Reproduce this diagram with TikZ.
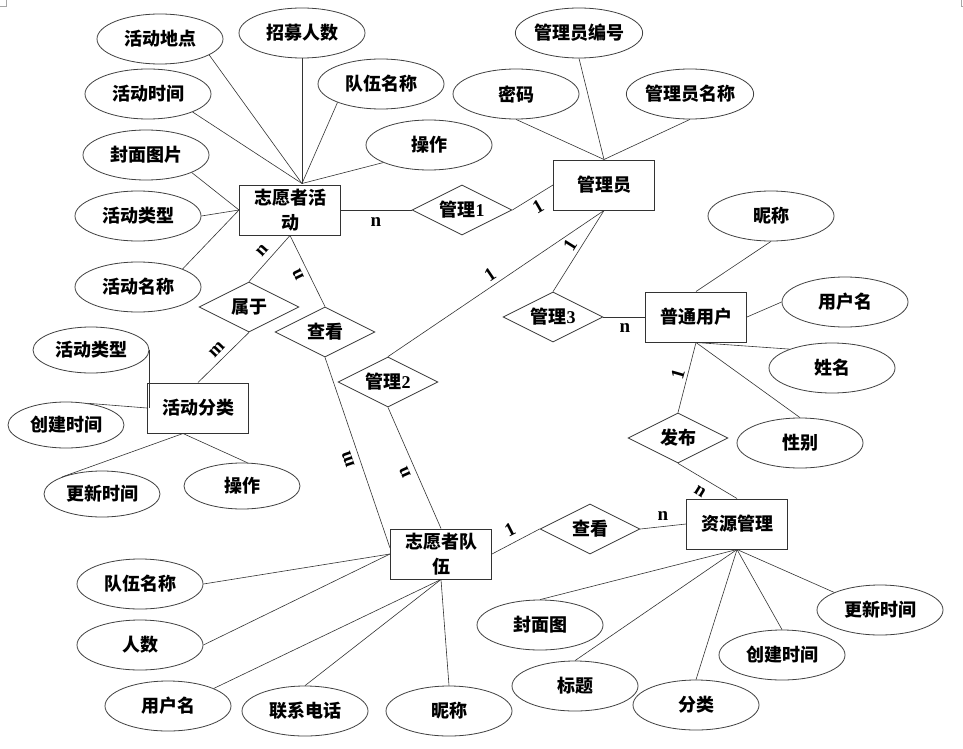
\documentclass[tikz,border=0pt]{standalone}
\usepackage{fontspec}
\setmainfont{Liberation Serif}
\newfontfamily\cjk{Noto Sans CJK SC}
\newfontfamily\numfont{Liberation Serif Bold}
\usetikzlibrary{shapes.geometric,calc}
\begin{document}
\begin{tikzpicture}[x=1pt,y=-1pt,
  cjkfont/.style={font=\cjk\fontsize{18}{25}\selectfont\bfseries},
  attr/.style={draw=black!75, line width=0.8pt, ellipse, minimum width=126pt, minimum height=50pt, inner sep=0pt, cjkfont},
  sattr/.style={attr, minimum width=116pt, minimum height=46pt},
  ent/.style={draw=black!80, line width=1pt, rectangle, minimum width=101pt, minimum height=50pt, inner sep=0pt, align=center, cjkfont},
  rel/.style={draw=black!80, line width=0.8pt, diamond, aspect=2, minimum width=100pt, minimum height=50pt, inner sep=0pt, cjkfont},
  conn/.style={draw=black!80, line width=0.6pt},
  card/.style={font=\numfont\fontsize{19}{19}\selectfont, inner sep=0pt}
]
\useasboundingbox (0,0) rectangle (963,749);
\fill[white] (0,0) rectangle (963,749);
\draw[black!35, line width=0.5pt] (6,0) -- (6,6) -- (0,6);
\draw[black!35, line width=0.5pt] (961,0) -- (961,6) -- (963,6);

% entities
\node[ent] (e1) at (290,210) {志愿者活\\动};
\node[ent] (e2) at (198,408) {活动分类};
\node[ent] (e3) at (441,554) {志愿者队\\伍};
\node[ent] (e4) at (604,185) {管理员};
\node[ent] (e5) at (696,317) {普通用户};
\node[ent] (e6) at (737,524) {资源管理};

% relationships
\node[rel] (r1) at (462,210) {管理{\numfont 1}};
\node[rel] (rsy) at (249,307) {属于};
\node[rel] (rck) at (325,332) {查看};
\node[rel] (r2) at (388,382) {管理{\numfont 2}};
\node[rel] (r3) at (553,317) {管理{\numfont 3}};
\node[rel] (r4) at (678,438) {发布};
\node[rel] (r5) at (590,529) {查看};

% attributes of 志愿者活动
\node[attr] (a1) at (160,39) {活动地点};
\node[attr] (a2) at (302,33) {招募人数};
\node[attr] (a3) at (148,94) {活动时间};
\node[attr] (a4) at (381,84) {队伍名称};
\node[attr] (a5) at (146,155) {封面图片};
\node[attr] (a6) at (429,145) {操作};
\node[attr] (a7) at (138,216) {活动类型};
\node[attr] (a8) at (138,287) {活动名称};

% attributes of 活动分类
\node[sattr] (b1) at (91,350) {活动类型};
\node[sattr] (b2) at (66,425) {创建时间};
\node[sattr] (b3) at (102,494) {更新时间};
\node[sattr] (b4) at (242,486) {操作};

% attributes of 志愿者队伍
\node[attr] (c1) at (140,584) {队伍名称};
\node[attr] (c2) at (140,645) {人数};
\node[attr] (c3) at (168,706) {用户名};
\node[attr] (c4) at (305,711) {联系电话};
\node[attr] (c5) at (449,711) {昵称};

% attributes of 管理员
\node[attr] (m1) at (579,33) {管理员编号};
\node[attr] (m2) at (516,94) {密码};
\node[attr] (m3) at (690,94) {管理员名称};

% attributes of 普通用户
\node[attr] (u1) at (771,216) {昵称};
\node[attr] (u2) at (845,302) {用户名};
\node[attr] (u3) at (832,368) {姓名};
\node[attr] (u4) at (800,443) {性别};

% attributes of 资源管理
\node[attr] (s1) at (880,610) {更新时间};
\node[attr] (s2) at (540,625) {封面图};
\node[attr] (s3) at (782,655) {创建时间};
\node[attr] (s4) at (575,686) {标题};
\node[attr] (s5) at (696,705) {分类};

% convergence points
\coordinate (e1t) at ($(e1.north)+(12,-1)$);
\coordinate (e2b) at ($(e2.south)+(-15,0)$);
\coordinate (e3w) at ($(e3.west)+(0,-6)$);

% attribute connectors
\draw[conn] (a1.-18) -- (e1t);
\draw[conn] (a2.south) -- (e1t);
\draw[conn] (a3.-22) -- (e1t);
\draw[conn] (a4.-157) -- (e1t);
\draw[conn] (a6.-159) -- (e1t);
\draw[conn] (a5.-21) -- (e1.west);
\draw[conn] (a7.east) -- (e1.west);
\draw[conn] (a8.22) -- (e1.west);

\draw[conn] (b1.east) -- (b1.east |- e2.west);
\draw[conn] (b2.45) -- (e2.west);
\draw[conn] (b3.157) -- (e2b);
\draw[conn] (b4.77) -- (e2b);

\draw[conn] (c1.east) -- (e3.west);
\draw[conn] (c2.east) -- (e3.west);
\draw[conn] (c3.21) -- (e3.south);
\draw[conn] (c4.north) -- (e3.south);
\draw[conn] (c5.north) -- (e3.south);

\draw[conn] (m1.south) -- (e4.north);
\draw[conn] (m2.south) -- (e4.north);
\draw[conn] (m3.south) -- (e4.north);

\draw[conn] (u1.south) -- (e5.north);
\draw[conn] (u2.west) -- (e5.east);
\draw[conn] (u3.156) -- (e5.south);
\draw[conn] (u4.north) -- (e5.south);

\draw[conn] (s1.159) -- (e6.south);
\draw[conn] (s2.north) -- (e6.south);
\draw[conn] (s3.north) -- (e6.south);
\draw[conn] (s4.north) -- (e6.south);
\draw[conn] (s5.north) -- (e6.south);

% relationship connectors
\draw[conn] (e1.east) -- (r1.west);
\draw[conn] (r1.east) -- (e4.west);
\draw[conn] (e1.south) -- (rsy.north);
\draw[conn] (e1.south) -- (rck.north);
\draw[conn] (rsy.south) -- (e2.north);
\draw[conn] (rck.south) -- (e3w);
\draw[conn] (r2.south) -- (e3.north);
\draw[conn] (r2.north) -- (e4.south);
\draw[conn] (e4.south) -- (r3.north);
\draw[conn] (r3.east) -- (e5.west);
\draw[conn] (e5.south) -- (r4.north);
\draw[conn] (r4.south) -- (e6.north);
\draw[conn] (e3.east) -- (r5.west);
\draw[conn] (r5.east) -- (e6.west);

% cardinalities
\node[card] (k1) at (376,222) {n};
\node[card, rotate=30] (k2) at (538,207) {1};
\node[card, rotate=48] (k3) at (262,251) {n};
\node[card, rotate=116] (k4) at (298,275) {n};
\node[card, rotate=46] (k5) at (217,350) {m};
\node[card, rotate=109] (k6) at (348,459) {m};
\node[card, rotate=114] (k7) at (405,472) {n};
\node[card, rotate=34] (k8) at (490,275) {1};
\node[card, rotate=58] (k9) at (570,245) {1};
\node[card] (k10) at (625,328) {n};
\node[card, rotate=74] (k11) at (678,374) {1};
\node[card, rotate=-32] (k12) at (700,491) {n};
\node[card, rotate=27] (k13) at (510,530) {1};
\node[card] (k14) at (663,516) {n};
\end{tikzpicture}
\end{document}
